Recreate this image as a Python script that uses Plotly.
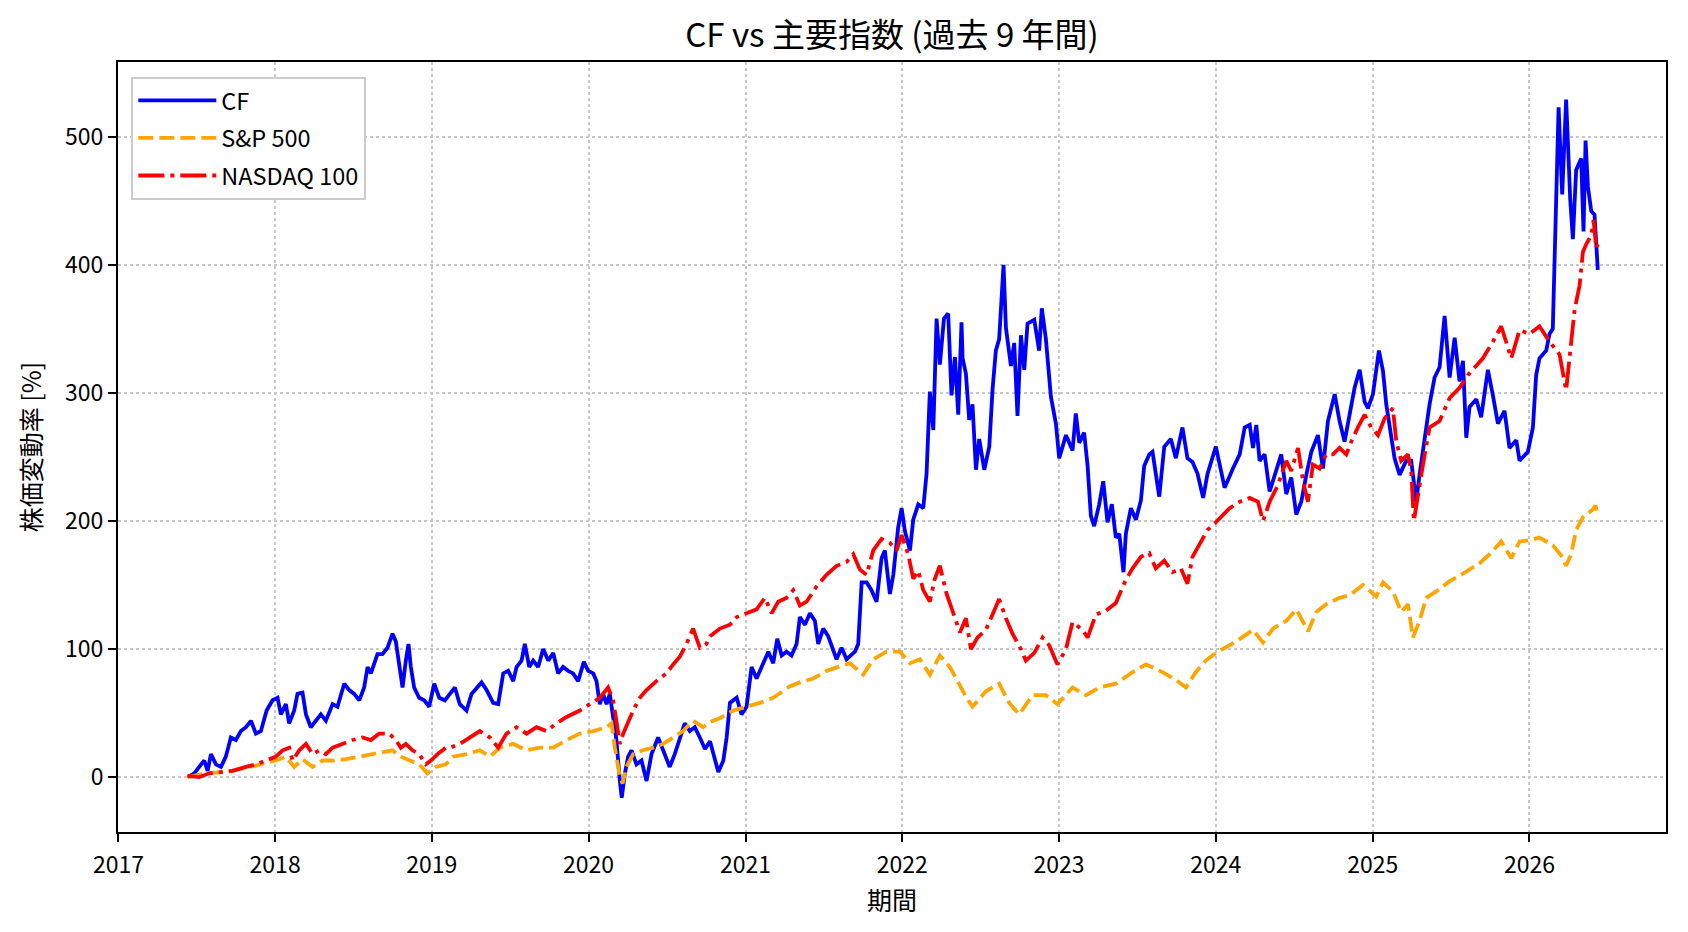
import pandas as pd
import plotly.graph_objects as go

# ---------------- data (decimal years, % change) ----------------
years = [2017, 2018, 2019, 2020, 2021, 2022, 2023, 2024, 2025, 2026]
y_ticks = [0, 100, 200, 300, 400, 500]

cf_t = [2017.441, 2017.484, 2017.515, 2017.547, 2017.569, 2017.590, 2017.622, 2017.654, 2017.685, 2017.717,
        2017.749, 2017.781, 2017.813, 2017.845, 2017.877, 2017.909, 2017.945, 2017.983, 2018.015, 2018.036,
        2018.068, 2018.089, 2018.121, 2018.142, 2018.174, 2018.196, 2018.227, 2018.259, 2018.291, 2018.323,
        2018.366, 2018.397, 2018.440, 2018.472, 2018.504, 2018.536, 2018.567, 2018.589, 2018.610, 2018.652,
        2018.684, 2018.716, 2018.748, 2018.769, 2018.791, 2018.812, 2018.833, 2018.850, 2018.865, 2018.886,
        2018.918, 2018.950, 2018.982, 2019.014, 2019.046,
        2019.082, 2019.114, 2019.146, 2019.177, 2019.220, 2019.252, 2019.284, 2019.316, 2019.348, 2019.390,
        2019.422, 2019.454, 2019.486, 2019.518, 2019.539, 2019.571, 2019.592, 2019.620, 2019.645, 2019.677,
        2019.709, 2019.741, 2019.773, 2019.804, 2019.836, 2019.868, 2019.900, 2019.932, 2019.968, 2019.996,
        2020.028, 2020.049, 2020.070, 2020.091, 2020.113, 2020.134, 2020.155, 2020.176, 2020.198, 2020.210,
        2020.230, 2020.251, 2020.272, 2020.304, 2020.336, 2020.368, 2020.400, 2020.442, 2020.474, 2020.516,
        2020.548, 2020.580, 2020.612, 2020.644, 2020.676, 2020.708, 2020.741,
        2020.773, 2020.804, 2020.826, 2020.858, 2020.879, 2020.900, 2020.943, 2020.974, 2021.006, 2021.038,
        2021.070, 2021.102, 2021.145, 2021.176, 2021.202, 2021.230, 2021.261, 2021.293, 2021.325, 2021.346,
        2021.378, 2021.410, 2021.442, 2021.463, 2021.495, 2021.527, 2021.559, 2021.580, 2021.612, 2021.644,
        2021.697, 2021.718, 2021.740, 2021.772, 2021.803, 2021.835, 2021.867, 2021.888, 2021.920, 2021.942,
        2021.973, 2021.995, 2022.016, 2022.048, 2022.069, 2022.101, 2022.133, 2022.154, 2022.175, 2022.197,
        2022.218, 2022.239, 2022.265, 2022.292, 2022.313, 2022.335, 2022.356, 2022.377,
        2022.384, 2022.405, 2022.426, 2022.447, 2022.469, 2022.490, 2022.522, 2022.554, 2022.575, 2022.596,
        2022.617, 2022.645, 2022.660, 2022.692, 2022.713, 2022.734, 2022.756, 2022.777, 2022.798, 2022.841,
        2022.872, 2022.889, 2022.915, 2022.947, 2022.979, 2023.000, 2023.043, 2023.085, 2023.106, 2023.128,
        2023.159, 2023.181, 2023.202, 2023.223, 2023.255, 2023.281, 2023.308, 2023.336, 2023.361, 2023.383,
        2023.410, 2023.425, 2023.457, 2023.489, 2023.521, 2023.542, 2023.574, 2023.595, 2023.638, 2023.670,
        2023.712, 2023.744, 2023.786, 2023.818, 2023.850, 2023.882, 2023.918, 2023.946, 2023.999,
        2024.055, 2024.108, 2024.151, 2024.183, 2024.215, 2024.236, 2024.257, 2024.278, 2024.310, 2024.342,
        2024.374, 2024.416, 2024.448, 2024.480, 2024.512, 2024.544, 2024.576, 2024.608, 2024.650, 2024.682,
        2024.714, 2024.757, 2024.788, 2024.820, 2024.852, 2024.884, 2024.916, 2024.948, 2024.969, 2025.001,
        2025.039, 2025.065, 2025.086, 2025.107, 2025.139, 2025.171, 2025.213, 2025.245, 2025.277, 2025.298,
        2025.330, 2025.362, 2025.394, 2025.426, 2025.458, 2025.490, 2025.522, 2025.553, 2025.575, 2025.596,
        2025.617, 2025.660, 2025.691, 2025.734, 2025.766, 2025.798, 2025.840, 2025.872, 2025.915, 2025.936,
        2025.989, 2026.021, 2026.042, 2026.063, 2026.106, 2026.127, 2026.148, 2026.163, 2026.185, 2026.208,
        2026.233, 2026.259, 2026.276, 2026.297, 2026.329, 2026.344, 2026.357, 2026.372, 2026.393, 2026.414,
        2026.435]
cf_v = [0, 3, 8, 13, 5, 18, 10, 8, 16, 31,
        29, 36, 39, 44, 34, 36, 52, 60, 62, 49,
        57, 42, 52, 65, 66, 49, 39, 44, 49, 44,
        57, 55, 73, 68, 65, 60, 70, 86, 81, 96,
        96, 101, 112, 106, 86, 70, 91, 104, 86, 70,
        62, 60, 55, 73, 62,
        60, 65, 70, 57, 52, 65, 70, 74, 68, 58,
        57, 81, 83, 75, 86, 91, 104, 86, 91, 86,
        100, 91, 97, 81, 86, 83, 81, 75, 90, 83,
        81, 75, 57, 65, 57, 65, 47, 29, -3, -16,
        3, 16, 21, 10, 13, -3, 18, 31, 21, 8,
        18, 31, 42, 36, 39, 31, 22,
        28, 13, 4, 13, 31, 58, 62, 49, 55, 86,
        77, 86, 98, 89, 108, 95, 98, 95, 104, 125,
        119, 128, 122, 104, 116, 110, 98, 92, 101, 92,
        98, 104, 152, 152, 146, 137, 171, 177, 143, 158,
        195, 210, 192, 177, 201, 213, 210, 237, 301, 271,
        358, 322, 358, 362, 298, 328, 283, 355,
        327, 315, 279, 291, 240, 264, 240, 258, 303, 333,
        342, 400, 351, 321, 339, 282, 345, 318, 354, 357,
        333, 366, 342, 297, 276, 249, 267, 255, 284, 261,
        269, 243, 204, 196, 213, 231, 199, 213, 187, 190,
        160, 190, 210, 201, 216, 243, 252, 254, 219, 258,
        264, 249, 273, 249, 246, 237, 218, 237, 258,
        226, 241, 252, 273, 275, 257, 275, 247, 252, 223,
        236, 252, 221, 234, 205, 215, 236, 254, 267, 241,
        278, 299, 278, 262, 283, 304, 318, 293, 288, 299,
        333, 317, 291, 275, 249, 236, 247, 247, 215, 236,
        262, 291, 312, 320, 360, 312, 343, 309, 325, 265,
        289, 295, 281, 318, 298, 276, 286, 257, 263, 247,
        254, 273, 314, 327, 333, 346, 350, 432, 523, 455,
        529, 451, 420, 474, 483, 426, 497, 461, 442, 439,
        396]

sp_t = [2017.441, 2017.558, 2017.685, 2017.770, 2017.877, 2018.004, 2018.068, 2018.121, 2018.174, 2018.238,
        2018.302, 2018.366, 2018.451, 2018.536, 2018.621, 2018.684, 2018.748, 2018.801, 2018.854, 2018.918,
        2018.971, 2019.024, 2019.088,
        2019.135, 2019.220, 2019.305, 2019.369, 2019.433, 2019.518, 2019.603, 2019.688, 2019.773, 2019.858,
        2019.943, 2020.028, 2020.113, 2020.145, 2020.166, 2020.198, 2020.215, 2020.240, 2020.283, 2020.346,
        2020.410, 2020.474, 2020.538, 2020.601, 2020.665, 2020.729,
        2020.773, 2020.836, 2020.921, 2021.006, 2021.091, 2021.176, 2021.283, 2021.346, 2021.431, 2021.516,
        2021.601, 2021.665, 2021.750, 2021.814, 2021.899, 2021.984, 2022.048, 2022.112, 2022.175, 2022.239,
        2022.303, 2022.367, 2022.409,
        2022.447, 2022.532, 2022.617, 2022.681, 2022.745, 2022.830, 2022.915, 2022.989, 2023.085, 2023.170,
        2023.255, 2023.361, 2023.468, 2023.553, 2023.659, 2023.744, 2023.808, 2023.871, 2023.935, 2023.999,
        2024.130, 2024.236, 2024.300, 2024.363, 2024.448, 2024.512, 2024.587, 2024.640, 2024.703, 2024.788,
        2024.852, 2024.937, 2025.022, 2025.065, 2025.128, 2025.182, 2025.224, 2025.256, 2025.298, 2025.341,
        2025.405, 2025.490, 2025.575, 2025.681,
        2025.745, 2025.819, 2025.883, 2025.936, 2025.999, 2026.063, 2026.148, 2026.202, 2026.233, 2026.265,
        2026.297, 2026.340, 2026.403, 2026.420, 2026.431]
sp_v = [0, 3, 4, 6, 9, 13, 16, 8, 14, 8,
        13, 13, 14, 16, 18, 19, 21, 16, 13, 10,
        3, 8, 10,
        16, 18, 21, 16, 23, 26, 21, 23, 23, 29,
        34, 36, 39, 42, 23, 0, -5, 8, 18, 21,
        23, 26, 31, 36, 44, 39,
        43, 46, 52, 55, 58, 62, 71, 74, 77, 83,
        86, 89, 80, 92, 98, 98, 89, 92, 80, 95,
        86, 71, 62,
        55, 67, 73, 58, 49, 64, 64, 57, 70, 64,
        70, 73, 82, 88, 82, 76, 70, 82, 91, 97,
        106, 115, 105, 116, 122, 131, 114, 129, 135, 140,
        142, 150, 141, 152, 145, 129, 135, 109, 122, 140,
        145, 153, 159, 167,
        174, 184, 171, 184, 185, 187, 181, 173, 165, 174,
        193, 203, 209, 212, 207]

nd_t = [2017.441, 2017.515, 2017.579, 2017.643, 2017.728, 2017.813, 2017.877, 2017.940, 2018.004, 2018.047,
        2018.089, 2018.111, 2018.153, 2018.196, 2018.238, 2018.281, 2018.323, 2018.366, 2018.429, 2018.493,
        2018.557, 2018.610, 2018.663, 2018.727, 2018.769, 2018.801, 2018.833, 2018.876, 2018.918, 2018.961,
        2018.993, 2019.035, 2019.088,
        2019.114, 2019.177, 2019.241, 2019.305, 2019.369, 2019.422, 2019.475, 2019.539, 2019.603, 2019.666,
        2019.730, 2019.794, 2019.858, 2019.943, 2020.006, 2020.070, 2020.123, 2020.155, 2020.176, 2020.198,
        2020.219, 2020.251, 2020.283, 2020.325, 2020.368, 2020.431, 2020.495, 2020.538, 2020.580, 2020.623,
        2020.665, 2020.708, 2020.750,
        2020.773, 2020.836, 2020.900, 2020.943, 2021.006, 2021.070, 2021.123, 2021.166, 2021.208, 2021.261,
        2021.304, 2021.346, 2021.389, 2021.453, 2021.516, 2021.580, 2021.644, 2021.687, 2021.729, 2021.772,
        2021.814, 2021.867, 2021.920, 2021.963, 2021.995, 2022.037, 2022.069, 2022.101, 2022.133, 2022.175,
        2022.207, 2022.239, 2022.282, 2022.324, 2022.367,
        2022.405, 2022.437, 2022.479, 2022.532, 2022.575, 2022.617, 2022.660, 2022.702, 2022.756, 2022.787,
        2022.841, 2022.894, 2022.936, 2022.989, 2023.043, 2023.085, 2023.149, 2023.181, 2023.234, 2023.298,
        2023.361, 2023.393, 2023.425, 2023.468, 2023.521, 2023.574, 2023.616, 2023.670, 2023.723, 2023.776,
        2023.818, 2023.850, 2023.893, 2023.946, 2023.999,
        2024.087, 2024.151, 2024.215, 2024.268, 2024.300, 2024.342, 2024.395, 2024.448, 2024.480, 2024.523,
        2024.555, 2024.586, 2024.618, 2024.661, 2024.703, 2024.746, 2024.788, 2024.831, 2024.863, 2024.905,
        2024.948, 2024.990, 2025.033, 2025.075, 2025.128, 2025.150, 2025.181, 2025.224, 2025.245, 2025.262,
        2025.288, 2025.320, 2025.362, 2025.426, 2025.490, 2025.553, 2025.607,
        2025.702, 2025.766, 2025.819, 2025.883, 2025.936, 2025.999, 2026.063, 2026.127, 2026.191, 2026.233,
        2026.265, 2026.287, 2026.319, 2026.340, 2026.361, 2026.393, 2026.408, 2026.425, 2026.435]
nd_v = [1, 0, 3, 4, 5, 8, 10, 13, 16, 21,
        23, 13, 21, 26, 18, 21, 18, 23, 26, 29,
        31, 29, 34, 34, 29, 23, 26, 21, 18, 10,
        13, 18, 23,
        23, 26, 31, 36, 31, 23, 34, 39, 34, 39,
        36, 42, 47, 52, 57, 62, 70, 60, 44, 26,
        34, 44, 52, 62, 68, 75, 81, 88, 94, 104,
        116, 101, 104,
        110, 116, 119, 125, 128, 131, 140, 128, 137, 140,
        146, 134, 137, 149, 158, 165, 168, 174, 162, 158,
        177, 186, 183, 177, 189, 174, 155, 161, 146, 137,
        155, 165, 143, 128, 113,
        124, 100, 109, 115, 127, 139, 124, 112, 100, 91,
        97, 109, 103, 88, 100, 121, 115, 109, 127, 130,
        136, 145, 154, 163, 172, 175, 163, 169, 160, 163,
        151, 172, 181, 193, 199,
        210, 215, 218, 215, 200, 215, 228, 247, 239, 257,
        231, 215, 244, 241, 252, 252, 257, 252, 262, 273,
        283, 273, 267, 280, 288, 262, 247, 252, 239, 200,
        221, 244, 273, 278, 296, 304, 314,
        327, 340, 352, 327, 349, 346, 352, 340, 330, 302,
        340, 365, 384, 410, 416, 423, 435, 413, 416]

assert len(cf_t) == len(cf_v)
assert len(sp_t) == len(sp_v)
assert len(nd_t) == len(nd_v)


def to_dates(ts):
    base = pd.Timestamp("2017-01-01")
    return [base + pd.to_timedelta((t - 2017) * 365.25, unit="D") for t in ts]


FONT = "Noto Sans CJK JP"

fig = go.Figure()
fig.add_trace(go.Scatter(x=to_dates(cf_t), y=cf_v, mode="lines", name="CF", legendgroup="cf",
                         line=dict(color="#0000ff", width=3.8)))
fig.add_trace(go.Scatter(x=to_dates(sp_t), y=sp_v, mode="lines", name="S&P 500", legendgroup="sp",
                         line=dict(color="#ffa500", width=3.8, dash="15px,6px")))
fig.add_trace(go.Scatter(x=to_dates(nd_t), y=nd_v, mode="lines", name="NASDAQ 100", legendgroup="nd",
                         line=dict(color="#ff0000", width=3.8, dash="26px,6px,4px,6px")))

axis_common = dict(
    showline=True, linecolor="black", linewidth=2, mirror=True,
    ticks="outside", ticklen=8, tickwidth=2, tickcolor="black",
    showgrid=True, gridcolor="#c8c8c8", gridwidth=1.6, griddash="dot",
    zeroline=False, tickfont=dict(family=FONT, size=23, color="black"),
)

fig.update_layout(
    width=1688, height=932,
    margin=dict(l=118, r=22, t=62, b=100),
    paper_bgcolor="white", plot_bgcolor="white",
    font=dict(family=FONT, color="black"),
    title=dict(text="CF vs 主要指数 (過去 9 年間)", x=0.5, xref="paper", xanchor="center",
               y=1 - 35 / 932, yref="container", yanchor="middle",
               font=dict(family=FONT, size=33, color="black")),
    xaxis=dict(axis_common, type="date",
               range=["2016-12-31", "2026-11-15"],
               tickvals=[f"{y}-01-01" for y in years],
               ticktext=[str(y) for y in years],
               ticklabelstandoff=3,
               title=dict(text="期間", standoff=14, font=dict(family=FONT, size=25))),
    yaxis=dict(axis_common, range=[-42.8, 558.3],
               tickvals=y_ticks, ticktext=[str(v) for v in y_ticks],
               title=dict(text="株価変動率 [%]", standoff=16, font=dict(family=FONT, size=25))),
    legend=dict(x=0.0086, y=0.981, xanchor="left", yanchor="top",
                bgcolor="white", bordercolor="#cccccc", borderwidth=2,
                itemwidth=78, tracegroupgap=4,
                font=dict(family=FONT, size=23.5, color="black")),
    showlegend=True,
)

fig.write_html("out.html", config={"displayModeBar": False})
